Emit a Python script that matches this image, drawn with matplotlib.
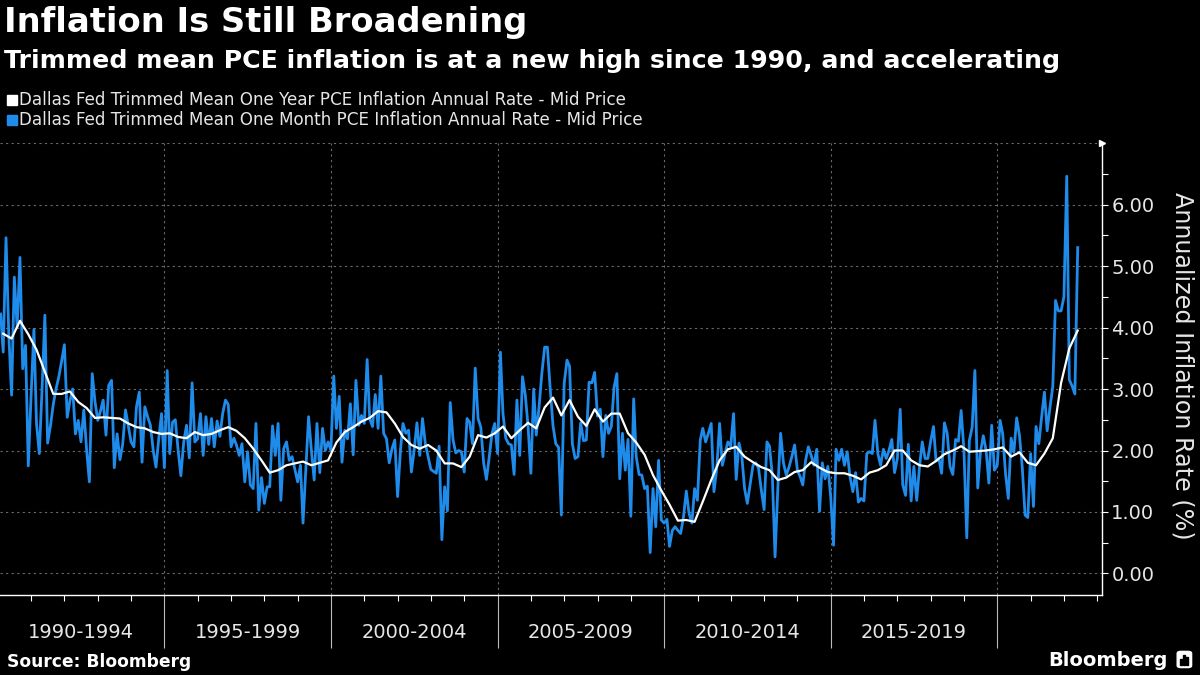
import matplotlib.pyplot as plt
import matplotlib.dates as mdates
import matplotlib.transforms as mtransforms
from matplotlib.patches import Rectangle, FancyBboxPatch
import pandas as pd

# Dallas Fed trimmed mean PCE, one-month annualized rate, Jan 1990 .. May 2022
one_month = [
    4.22, 3.6, 5.46, 3.9, 2.9, 4.82, 4.0, 5.14, 3.33, 3.71, 1.75, 2.9,       # 1990
    3.97, 2.44, 1.95, 3.0, 4.2, 2.12, 2.4, 2.75, 3.0, 3.2, 3.45, 3.72,       # 1991
    2.54, 2.8, 3.0, 2.27, 2.49, 2.14, 2.66, 2.0, 1.49, 3.25, 2.8, 2.49,      # 1992
    2.65, 2.82, 2.25, 3.06, 3.14, 1.72, 2.27, 1.85, 2.1, 2.66, 2.4, 2.14,    # 1993
    2.06, 2.71, 2.95, 1.81, 2.71, 2.55, 2.41, 2.0, 1.73, 2.2, 2.6, 1.72,     # 1994
    3.3, 1.95, 2.46, 2.5, 2.0, 1.59, 2.14, 2.41, 1.88, 3.1, 2.14, 2.19,      # 1995
    2.6, 1.92, 2.55, 2.1, 2.52, 2.06, 2.48, 2.23, 2.6, 2.82, 2.75, 2.06,     # 1996
    2.2, 2.09, 1.92, 2.11, 1.49, 1.98, 1.44, 1.38, 2.44, 1.03, 1.56, 1.14,   # 1997
    1.41, 1.41, 2.4, 1.92, 2.44, 1.19, 2.03, 2.14, 1.84, 1.9, 1.7, 1.49,     # 1998
    1.76, 0.82, 1.7, 2.55, 2.0, 1.52, 2.44, 1.64, 2.36, 2.0, 2.14, 2.0,      # 1999
    3.21, 2.36, 2.88, 1.81, 2.33, 2.19, 2.76, 1.93, 3.14, 2.41, 2.57, 2.44,  # 2000
    3.48, 2.52, 2.39, 2.91, 2.36, 3.21, 2.28, 2.19, 1.8, 2.03, 2.17, 1.25,   # 2001
    2.0, 2.44, 2.28, 2.33, 1.65, 2.0, 2.45, 1.92, 2.52, 2.11, 1.9, 1.69,     # 2002
    1.66, 1.63, 2.07, 0.55, 1.41, 1.02, 2.78, 2.17, 1.96, 2.0, 1.98, 1.65,   # 2003
    2.52, 2.46, 2.11, 3.34, 2.52, 2.38, 1.8, 1.53, 1.89, 2.28, 2.44, 1.95,   # 2004
    3.6, 2.6, 2.2, 2.11, 2.09, 1.61, 2.82, 1.92, 3.2, 2.9, 2.4, 1.63,        # 2005
    3.0, 2.25, 2.71, 3.25, 3.68, 3.68, 3.0, 2.4, 2.11, 2.05, 0.95, 3.09,     # 2006
    3.47, 3.37, 2.11, 1.87, 1.9, 2.45, 2.16, 2.17, 3.11, 3.1, 3.27, 2.56,    # 2007
    2.67, 1.9, 2.57, 2.28, 2.39, 3.03, 3.25, 1.54, 2.28, 1.68, 2.18, 0.93,   # 2008
    2.84, 1.9, 1.61, 1.6, 1.38, 1.42, 0.34, 1.38, 0.76, 1.84, 0.87, 0.82,    # 2009
    0.88, 0.44, 0.7, 0.76, 0.7, 0.65, 0.92, 1.34, 0.98, 0.82, 1.38, 1.19,    # 2010
    2.17, 2.36, 2.14, 2.28, 2.44, 1.33, 1.71, 2.44, 1.76, 1.96, 2.14, 2.07,  # 2011
    2.6, 1.53, 2.12, 1.92, 1.38, 1.14, 1.45, 1.76, 1.8, 1.71, 1.36, 1.04,    # 2012
    2.14, 2.07, 1.6, 0.27, 1.41, 2.28, 1.8, 1.6, 1.73, 1.9, 2.09, 1.68,      # 2013
    1.57, 1.44, 1.84, 2.06, 1.92, 1.76, 2.02, 1.01, 1.8, 1.54, 1.74, 1.25,   # 2014
    0.46, 2.02, 1.84, 2.02, 1.76, 1.98, 1.57, 1.33, 1.64, 1.16, 1.22, 1.18,  # 2015
    1.95, 1.98, 1.95, 2.49, 1.95, 1.76, 2.02, 1.87, 2.0, 2.18, 1.64, 1.87,   # 2016
    2.67, 1.44, 1.27, 2.1, 1.18, 1.74, 1.19, 1.74, 2.14, 1.87, 1.87, 2.15,   # 2017
    2.39, 1.83, 1.87, 1.63, 2.45, 2.28, 1.74, 1.61, 2.18, 2.15, 2.65, 2.0,   # 2018
    0.58, 2.16, 2.38, 3.3, 1.39, 1.97, 2.24, 2.0, 1.47, 2.41, 1.68, 1.76,    # 2019
    2.49, 2.27, 1.62, 1.22, 2.2, 1.97, 2.53, 2.24, 1.73, 0.95, 0.91, 1.95,   # 2020
    1.09, 2.39, 2.11, 2.54, 2.95, 2.32, 2.7, 3.04, 4.44, 4.27, 4.27, 4.5,    # 2021
    6.46, 3.15, 3.05, 2.92, 5.3,                                             # 2022
]

# one-year rate, read every third month from Feb 1990 to May 2022
one_year = [
    3.9, 3.82, 4.11, 3.89, 3.64, 3.28, 2.92, 2.92, 2.96, 2.79, 2.69, 2.53,
    2.54, 2.53, 2.52, 2.44, 2.38, 2.36, 2.3, 2.27, 2.28, 2.22, 2.2, 2.3,
    2.25, 2.27, 2.33, 2.38, 2.32, 2.2, 2.03, 1.84, 1.64, 1.68, 1.76, 1.79,
    1.82, 1.76, 1.8, 1.84, 2.13, 2.3, 2.38, 2.47, 2.53, 2.64, 2.62,
    2.44, 2.22, 2.09, 2.03, 2.09, 2.0, 1.79, 1.79, 1.73, 1.9, 2.25,
    2.21, 2.28, 2.39, 2.2, 2.33, 2.45, 2.36, 2.7, 2.86, 2.57, 2.82, 2.55,
    2.4, 2.67, 2.47, 2.6, 2.6, 2.28, 2.13, 1.93, 1.6, 1.35, 1.12,
    0.86, 0.87, 0.84, 1.17, 1.52, 1.84, 2.02, 2.06, 1.9, 1.81, 1.73, 1.68,
    1.52, 1.56, 1.65, 1.68, 1.81, 1.72, 1.65, 1.63, 1.63, 1.59, 1.53,
    1.64, 1.68, 1.76, 2.0, 2.0, 1.84, 1.76, 1.74, 1.83, 1.94, 2.0,
    2.07, 1.98, 1.99, 2.0, 2.02, 2.05, 1.9, 1.97, 1.8, 1.76, 1.95, 2.2,
    3.1, 3.66, 3.95,
]

period_labels = ['1990-1994', '1995-1999', '2000-2004', '2005-2009', '2010-2014', '2015-2019']
period_starts = [1990, 1995, 2000, 2005, 2010, 2015]

BLUE = '#1f8ceb'
GRID = '#6a6a6a'
TEXT = '#e6e6e6'

month_dates = pd.date_range('1990-01-31', periods=len(one_month), freq='ME')
year_dates = pd.date_range('1990-02-28', periods=len(one_year), freq='3ME')

fig = plt.figure(figsize=(12, 6.75), dpi=100, facecolor='black')
ax = fig.add_axes([0.0, 0.1185, 0.918, 0.6696], facecolor='black')

# grid first so the lines sit on top
for v in range(0, 8):
    ax.axhline(v, color=GRID, lw=0.8, ls=(0, (2, 3)), zorder=1)
for yr in period_starts[1:] + [2020]:
    ax.axvline(pd.Timestamp(f'{yr}-01-01'), color=GRID, lw=0.8, ls=(0, (2, 3)), zorder=1)

ax.plot(month_dates, one_month, color=BLUE, lw=2.0, zorder=3)
ax.plot(year_dates, one_year, color='white', lw=1.6, zorder=4)

ax.set_xlim(pd.Timestamp('1990-01-24'), pd.Timestamp('2023-02-17'))
ax.set_ylim(-0.35, 7.0)

# right hand value axis
ax.yaxis.tick_right()
ax.set_yticks(range(0, 7))
ax.set_yticklabels([f'{v:.2f}' for v in range(0, 7)])
ax.set_yticks([v + 0.5 for v in range(0, 7)], minor=True)
ax.tick_params(axis='y', which='both', colors='white', labelcolor=TEXT,
               labelsize=14, length=4, width=0.8, pad=3, direction='out')

# bottom axis: yearly ticks, long separators every five years
ax.xaxis.set_minor_locator(mdates.YearLocator(1))
ax.set_xticks([pd.Timestamp(f'{yr}-01-01') for yr in period_starts[1:] + [2020]])
ax.set_xticklabels([])
ax.tick_params(axis='x', which='minor', colors='white', length=4, width=0.8, direction='out')
ax.tick_params(axis='x', which='major', colors='#bbbbbb', length=38, width=0.8, direction='out')

for side in ['left', 'top']:
    ax.spines[side].set_visible(False)
for side in ['bottom', 'right']:
    ax.spines[side].set_color('white')
    ax.spines[side].set_linewidth(1.0)

# small arrow head on top of the value axis
ax.plot([1], [1], marker='>', markersize=5, color='white', transform=ax.transAxes, clip_on=False)

# period labels under the axis
trans = mtransforms.blended_transform_factory(ax.transData, ax.transAxes)
for lab, start in zip(period_labels, period_starts):
    mid = pd.Timestamp(f'{start + 2}-07-02')
    ax.text(mid, -0.084, lab, transform=trans, ha='center', va='center',
            color=TEXT, fontsize=14)

fig.text(0.985, 0.458, 'Annualized Inflation Rate (%)', rotation=270,
         ha='center', va='center', color=TEXT, fontsize=17.2)

# titles
fig.text(0.003, 0.966, 'Inflation Is Still Broadening', color='white',
         fontsize=24.3, fontweight='bold', ha='left', va='center')
fig.text(0.003, 0.910, 'Trimmed mean PCE inflation is at a new high since 1990, and accelerating',
         color='white', fontsize=18.2, fontweight='bold', ha='left', va='center')

# legend
legend_rows = [('white', 'Dallas Fed Trimmed Mean One Year PCE Inflation Annual Rate - Mid Price', 0.852),
               (BLUE, 'Dallas Fed Trimmed Mean One Month PCE Inflation Annual Rate - Mid Price', 0.822)]
for col, lab, y in legend_rows:
    fig.add_artist(Rectangle((7 / 1200, y - 0.0074), 10 / 1200, 0.0148, color=col, transform=fig.transFigure))
    fig.text(19 / 1200, y, lab, color=TEXT, fontsize=12.1, ha='left', va='center')

# footer
fig.text(0.006, 0.019, 'Source: Bloomberg', color='white', fontsize=12.3,
         fontweight='bold', ha='left', va='center')
fig.text(0.973, 0.022, 'Bloomberg', color='white', fontsize=14,
         fontweight='bold', ha='right', va='center')
fig.add_artist(FancyBboxPatch((0.981, 0.011), 0.012, 0.024,
                              boxstyle='round,pad=0,rounding_size=0.003',
                              color='white', transform=fig.transFigure))
for i, h in enumerate([0.008, 0.014, 0.011]):
    fig.add_artist(Rectangle((0.9835 + i * 0.0025, 0.015), 0.0014, h,
                             color='black', transform=fig.transFigure))

fig.savefig('out.png', dpi=100, facecolor='black')
